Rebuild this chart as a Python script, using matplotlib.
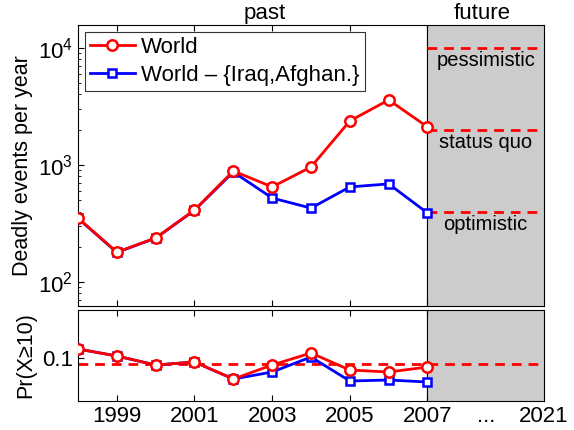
import matplotlib
matplotlib.use("Agg")
import matplotlib.pyplot as plt
import numpy as np

plt.rcParams['font.family'] = ['Liberation Sans', 'DejaVu Sans']
plt.rcParams['mathtext.fontset'] = 'custom'
plt.rcParams['mathtext.rm'] = 'Liberation Sans'
plt.rcParams['mathtext.it'] = 'Liberation Sans:italic'

years = [1998, 1999, 2000, 2001, 2002, 2003, 2004, 2005, 2006, 2007]
world = [352, 180, 238, 412, 889, 649, 961, 2377, 3593, 2113]
world_ex = [350, 179, 237, 410, 871, 522, 428, 649, 689, 389]
scenarios = [10000, 2000, 400]
scen_names = ["pessimistic", "status quo", "optimistic"]

pr_world = [0.118, 0.104, 0.086, 0.092, 0.058, 0.086, 0.110, 0.076, 0.072, 0.082]
pr_world_ex = [0.118, 0.104, 0.086, 0.092, 0.058, 0.072, 0.102, 0.054, 0.056, 0.052]
pr_mean = 0.088

xticks = [1999, 2001, 2003, 2005, 2007]
xlabels = ["1999", "2001", "2003", "2005", "2007"]

fs = 16
fig = plt.figure(figsize=(5.74, 4.3), dpi=100)
ax1 = fig.add_axes([0.1359, 0.2884, 0.8118, 0.6535])
ax2 = fig.add_axes([0.1359, 0.0674, 0.8118, 0.2117])

for ax in (ax1, ax2):
    ax.axvspan(2007, 2010, color='#cccccc', zorder=0)
    ax.axvline(2007, color='k', lw=0.8, zorder=1)
    ax.set_xlim(1998, 2010)
    ax.set_xticks(xticks)
    ax.tick_params(direction='in', top=True, length=4, labelsize=fs)
    for s in ax.spines.values():
        s.set_linewidth(0.8)

# top panel
ax1.set_yscale('log')
ax1.set_ylim(62.4, 15700)
ax1.plot(years, world_ex, '-s', color='blue', lw=2, ms=6, mfc='white', mew=1.8,
         label='World – {Iraq,Afghan.}', zorder=3)
ax1.plot(years, world, '-o', color='red', lw=2, ms=7.5, mfc='white', mew=1.8,
         label='World', zorder=4)
for v, name in zip(scenarios, scen_names):
    ax1.plot([2007, 2009.85], [v, v], '--', color='red', lw=2, dashes=(3.5, 2.5), zorder=2)
    ax1.text(2008.5, v * 0.94, name, ha='center', va='top', fontsize=fs - 1.5)
ax1.set_xticklabels([])
ax1.tick_params(axis='y', which='minor', direction='in', length=2)
ax1.set_ylabel('Deadly events per year', fontsize=fs - 0.5)
h, l = ax1.get_legend_handles_labels()
leg = ax1.legend(h[::-1], l[::-1], loc='upper left', fontsize=fs, frameon=True,
                 fancybox=False, edgecolor='k', handlelength=2.0, borderaxespad=0.3,
                 borderpad=0.25, labelspacing=0.3, handletextpad=0.3)
leg.get_frame().set_linewidth(0.8)
ax1.text(2002.8, 1.005, 'past', transform=ax1.get_xaxis_transform(), ha='center', va='bottom', fontsize=fs)
ax1.text(2008.4, 1.005, 'future', transform=ax1.get_xaxis_transform(), ha='center', va='bottom', fontsize=fs)

# bottom panel
ax2.set_ylim(0.014, 0.196)
ax2.plot(years, pr_world_ex, '-s', color='blue', lw=2, ms=6, mfc='white', mew=1.8, zorder=3)
ax2.plot(years, pr_world, '-o', color='red', lw=2, ms=7.5, mfc='white', mew=1.8, zorder=4)
ax2.plot([1998, 2009.85], [pr_mean, pr_mean], '--', color='red', lw=2, dashes=(3.5, 2.5), zorder=2)
ax2.set_yticks([0.1])
ax2.set_yticklabels(['0.1'])
ax2.set_xticklabels(xlabels)
ax2.set_ylabel('Pr(X≥10)', fontsize=fs - 0.5)
ax2.text(2008.5, -0.06, '...', transform=ax2.get_xaxis_transform(), ha='center', va='top', fontsize=fs)
ax2.text(2010, -0.06, '2021', transform=ax2.get_xaxis_transform(), ha='center', va='top', fontsize=fs)

fig.align_ylabels([ax1, ax2])
plt.savefig("out.png", dpi=100)
